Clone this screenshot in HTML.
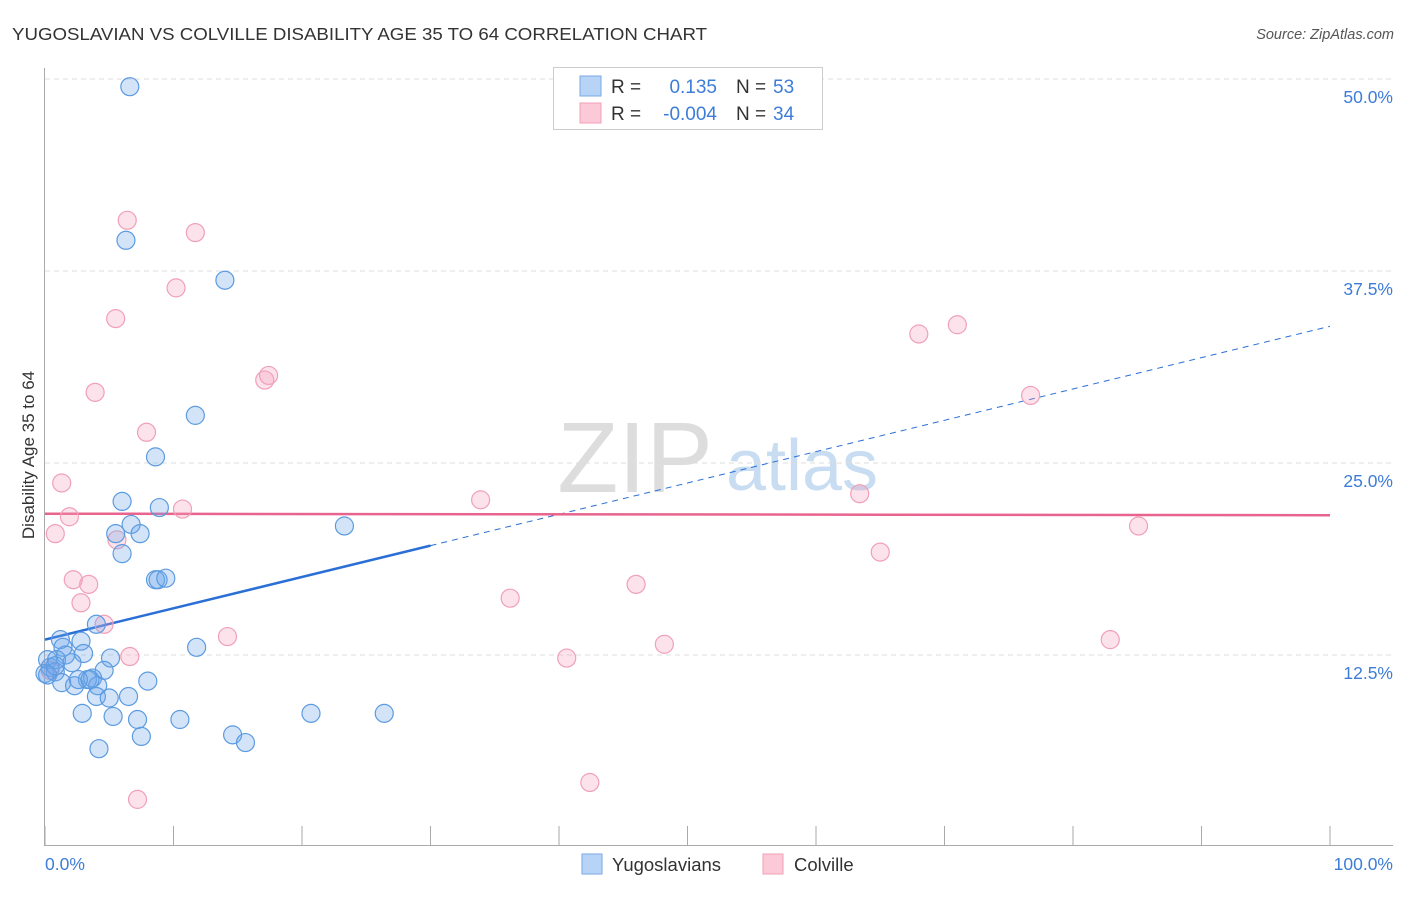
<!DOCTYPE html>
<html><head><meta charset="utf-8"><style>
body{margin:0;background:#fff;font-family:"Liberation Sans",sans-serif;}
svg text{font-family:"Liberation Sans",sans-serif;}
</style></head><body>
<svg id="chart" width="1406" height="892" viewBox="0 0 1406 892" xmlns="http://www.w3.org/2000/svg">
<text x="12" y="40" font-size="17.5" fill="#333" textLength="695" lengthAdjust="spacingAndGlyphs">YUGOSLAVIAN VS COLVILLE DISABILITY AGE 35 TO 64 CORRELATION CHART</text>
<text x="1394" y="39" font-size="14.5" fill="#555" font-style="italic" text-anchor="end">Source: ZipAtlas.com</text>
<g>
<text x="635" y="492" font-size="100" fill="#ddd" font-family="Liberation Serif,serif" text-anchor="middle">ZIP</text>
<text x="802" y="490" font-size="72" fill="#c8dcf2" text-anchor="middle">atlas</text>
</g>
<g id="grid"></g>
<g id="axes"></g>
<g id="lines"></g>
<g id="points"></g>
<text transform="translate(34,455) rotate(-90)" font-size="17" fill="#333" text-anchor="middle">Disability Age 35 to 64</text>
<text x="45" y="870" font-size="17.5" fill="#3d7dd8">0.0%</text>
<text x="1393" y="870" font-size="17.5" fill="#3d7dd8" text-anchor="end">100.0%</text>
<g>
<rect x="553.5" y="67.5" width="269" height="62" fill="#fff" stroke="#ccc"/>
<rect x="580" y="76" width="21" height="20" fill="#b7d3f5" stroke="#7aaae6"/>
<rect x="580" y="103" width="21" height="20" fill="#fbc9d8" stroke="#f0a0b8"/>
<text x="611" y="93" font-size="19" fill="#333">R =</text>
<text x="717" y="93" font-size="19" fill="#3d7dd8" text-anchor="end">0.135</text>
<text x="736" y="93" font-size="19" fill="#333">N =</text>
<text x="773" y="93" font-size="19" fill="#3d7dd8">53</text>
<text x="611" y="120" font-size="19" fill="#333">R =</text>
<text x="717" y="120" font-size="19" fill="#3d7dd8" text-anchor="end">-0.004</text>
<text x="736" y="120" font-size="19" fill="#333">N =</text>
<text x="773" y="120" font-size="19" fill="#3d7dd8">34</text>
</g>
<g>
<rect x="582" y="854" width="20" height="20" fill="#b7d3f5" stroke="#7aaae6"/>
<text x="612" y="871" font-size="18.5" fill="#333">Yugoslavians</text>
<rect x="763" y="854" width="20" height="20" fill="#fbc9d8" stroke="#f0a0b8"/>
<text x="794" y="871" font-size="18.5" fill="#333">Colville</text>
</g>
</svg>
<script>
const yTicks = [12.5, 25, 37.5, 50];
const yTickLabels = ["12.5%", "25.0%", "37.5%", "50.0%"];
const xTicks = [0,10,20,30,40,50,60,70,80,90,100];
const blueX = [6.6,6.3,14.0,11.7,8.6,6.0,8.9,23.3,6.7,5.5,7.4,6.0,8.6,8.8,9.4,4.0,1.2,2.8,1.4,3.0,5.1,0.2,0.9,2.1,0.4,4.6,0.8,0,0.2,3.3,3.7,1.3,2.3,4.1,8.0,11.8,4.0,5.0,6.5,2.9,5.3,7.2,10.5,20.7,26.4,7.5,14.6,15.6,4.2,1.6,2.6,3.5,0.8];
const blueY = [49.5,39.5,36.9,28.1,25.4,22.5,22.1,20.9,21.0,20.4,20.4,19.1,17.4,17.4,17.5,14.5,13.5,13.4,13.0,12.6,12.3,12.2,12.2,12.0,11.7,11.5,11.4,11.3,11.2,10.9,11.0,10.7,10.5,10.5,10.8,13.0,9.8,9.7,9.8,8.7,8.5,8.3,8.3,8.7,8.7,7.2,7.3,6.8,6.4,12.5,10.9,10.9,11.8];
const pinkX = [6.4,11.7,10.2,5.5,3.9,17.4,17.1,7.9,1.3,1.9,0.8,10.7,33.9,5.6,2.2,3.4,2.8,4.6,14.2,6.6,36.2,40.6,46.0,48.2,42.4,7.2,68.0,71.0,76.7,63.4,65.0,85.1,82.9,0.4];
const pinkY = [40.8,40.0,36.4,34.4,29.6,30.7,30.4,27.0,23.7,21.5,20.4,22.0,22.6,20.0,17.4,17.1,15.9,14.5,13.7,12.4,16.2,12.3,17.1,13.2,4.2,3.1,33.4,34.0,29.4,23.0,19.2,20.9,13.5,11.5];
const blueTrend = [13.5, 33.9];
const pinkTrend = [21.7, 21.6];
const blueSolidEnd = 30;

const NS="http://www.w3.org/2000/svg";
const X0=45,X1=1330,Y0=847,YS=15.36;
const sx=v=>X0+(X1-X0)*v/100;
const sy=v=>Y0-v*YS;
function mk(tag,attrs,parent){const e=document.createElementNS(NS,tag);for(const k in attrs)e.setAttribute(k,attrs[k]);parent.appendChild(e);return e;}
const grid=document.getElementById('grid'),axes=document.getElementById('axes'),lines=document.getElementById('lines'),pts=document.getElementById('points');
yTicks.forEach((t,i)=>{
  const l=mk('line',{x1:45,x2:1393,y1:sy(t),y2:sy(t),stroke:'#ddd','stroke-dasharray':'5,4'},grid);
  
  
  const tx=mk('text',{x:1393,y:sy(t)+24,'font-size':17.5,fill:'#3d7dd8','text-anchor':'end'},grid);
  tx.textContent=yTickLabels[i];
  
  
});
const ax=mk('line',{x1:45,x2:1393,y1:845.5,y2:845.5,stroke:'#aaa'},axes);


const ay=mk('line',{x1:44.5,x2:44.5,y1:68,y2:846,stroke:'#aaa'},axes);


xTicks.forEach(t=>{
  const l=mk('line',{x1:sx(t),x2:sx(t),y1:826,y2:846,stroke:'#aaa'},axes);
  
  
});
const bl=(x)=>blueTrend[0]+(blueTrend[1]-blueTrend[0])*x/100;
const b1=mk('line',{x1:sx(0),y1:sy(bl(0)),x2:sx(blueSolidEnd),y2:sy(bl(blueSolidEnd)),stroke:'#2a6fd6','stroke-width':2.5},lines);


const b2=mk('line',{x1:sx(blueSolidEnd),y1:sy(bl(blueSolidEnd)),x2:sx(100),y2:sy(bl(100)),stroke:'#2a6fd6','stroke-width':1,'stroke-dasharray':'6,5'},lines);


const p1=mk('line',{x1:sx(0),y1:sy(pinkTrend[0]),x2:sx(100),y2:sy(pinkTrend[1]),stroke:'#e8648e','stroke-width':2.5},lines);


pinkX.forEach((x,i)=>{
  const c=mk('circle',{cx:sx(x),cy:sy(pinkY[i]),r:9,fill:'rgba(245,160,190,0.3)',stroke:'#f0a0b8','stroke-width':1.2},pts);
  
  
});
blueX.forEach((x,i)=>{
  const c=mk('circle',{cx:sx(x),cy:sy(blueY[i]),r:9,fill:'rgba(110,165,235,0.3)',stroke:'#5b9be0','stroke-width':1.2},pts);
  
  
});
</script>
</body></html>
